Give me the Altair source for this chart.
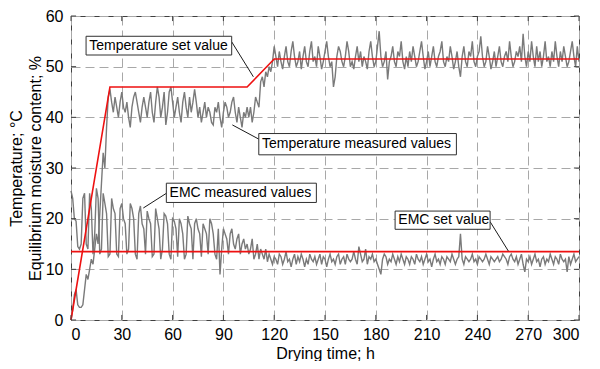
import altair as alt
import pandas as pd

# ---------------- data ----------------
hours = list(range(301))

temp_measured = (
    [0, 2, 5, 6, 3, 2.5, 2.5, 3, 6, 9, 8, 10, 12, 11, 14, 17, 15, 21, 27, 33, 30, 38, 44, 45.5]
    + [43, 41, 44, 42, 40, 43, 45, 42, 41, 43]
    + [40, 38, 42, 44, 45, 43, 41, 39, 42, 44]
    + [42, 40, 43, 45, 41, 39, 43, 46, 44, 40]
    + [42, 45, 38.5, 41, 45, 46, 43, 40, 42, 44]
    + [41, 39, 43, 45, 42, 40, 44, 41, 43, 45.5]
    + [43, 40, 42, 39, 41, 43, 40, 42, 41, 39]
    + [38.5, 42, 41, 43, 40, 38, 41, 43, 42, 40]
    + [41, 43, 44, 41, 39, 42, 40, 38, 41, 40, 42]
    + [40, 42, 39, 41, 44, 43, 42, 47, 48, 46, 49, 48, 50, 49, 51, 54]
    + [52, 50, 53, 51, 49.5, 52, 54, 51, 50, 53]
    + [55, 52, 50, 51, 53, 49.5, 52, 54, 51, 50]
    + [53, 55, 51, 52, 50, 54, 52, 49.5, 51, 53]
    + [55, 52, 50, 51, 46, 48, 52, 54, 53, 51]
    + [50, 52, 55, 53, 50, 51, 49.5, 52, 54, 51]
    + [53, 50, 52, 51, 49.5, 53, 55, 52, 50, 51]
    + [54, 57, 52, 50, 51, 53, 47.5, 51, 52, 54]
    + [51, 50, 53, 52, 55, 51, 49.5, 52, 50, 53]
    + [51, 54, 52, 50, 51, 53, 55, 52, 49.5, 51]
    + [53, 50, 52, 54, 51, 50, 52, 53, 55, 51]
    + [50, 52, 51, 54, 52, 49.5, 51, 53, 50, 48]
    + [52, 54, 51, 50, 53, 52, 55, 51, 50, 52]
    + [53, 56, 52, 50, 51, 54, 52, 49.5, 51, 53]
    + [50, 52, 54, 51, 50, 52, 53, 51, 55, 52]
    + [50, 51, 53, 52, 54, 51, 56.5, 52, 50, 53]
    + [51, 55, 52, 50, 54, 51, 53, 50, 52, 55]
    + [51, 52, 50, 53, 51, 55, 52, 50, 53, 51]
    + [54, 52, 50, 51, 53, 55, 52, 50, 54, 51]
)

emc_measured = (
    [25.5, 24, 20, 19.5, 14.5, 14, 15, 24, 25, 15, 14, 25, 22, 13, 17, 26, 24, 13, 14, 25, 23, 21, 12.5, 13]
    + [24, 22, 21, 13, 12.5, 22, 23, 20, 19, 13]
    + [14, 23, 22, 20, 13, 12, 21, 22.5, 19, 18]
    + [13, 21.5, 20, 19, 12.5, 13, 22, 20, 18, 12]
    + [14, 21, 20.5, 19, 13, 12, 20, 19.5, 18, 12.5]
    + [20, 19, 17, 12, 13, 20.5, 19, 18, 12, 19]
    + [20, 18, 17, 12.5, 19, 18, 17, 13, 20, 19]
    + [17, 13, 12, 18, 9, 14, 18, 17, 16, 13]
    + [17, 18, 15, 14, 16, 17, 13, 15, 16, 14]
    + [15, 13, 14, 16, 12, 13, 15, 12, 14, 13]
    + [12, 14, 11.5, 13, 12, 11, 12.5]
    + [12, 11, 13, 12.5, 11, 12, 13.5, 11.5, 12, 10.5]
    + [12, 13, 11, 12.5, 11.5, 13, 12, 10.5, 12, 11]
    + [13, 12, 11.5, 12.5, 11, 12, 13, 11, 12.5, 12]
    + [10.5, 12, 13, 11.5, 12, 11, 12.5, 13, 11, 12]
    + [12.5, 11, 13, 12, 11.5, 12, 13.5, 12, 11, 14.5]
    + [13, 11.5, 12, 14, 11, 12.5, 12, 13, 11.5, 12]
    + [11, 10, 9, 12, 13, 12.5, 11, 12, 11.5, 13]
    + [12, 11, 12.5, 11.5, 13, 12, 11, 12.5, 12, 11]
    + [12.5, 12, 11, 13, 12, 11.5, 12.5, 11, 12, 13]
    + [11.5, 12, 10.5, 12, 13, 11.5, 12, 11, 12.5, 12]
    + [11, 12.5, 12, 11.5, 13, 12, 11, 12, 12.5, 17]
    + [12, 11, 12.5, 12, 11.5, 12, 13, 11.5, 12, 11]
    + [12.5, 12, 11.5, 12, 13, 12, 11, 12.5, 12, 11.5]
    + [12, 12.5, 11.5, 12, 13, 12.5, 12, 11, 12.5, 13]
    + [12, 11.5, 12.5, 11, 12, 13, 11, 9.5, 12, 11.5]
    + [12.5, 11, 12, 13, 11.5, 12, 10.5, 12, 12.5, 11]
    + [12, 11.5, 13, 12, 11, 12.5, 12, 11, 13, 12]
    + [11.5, 12, 9.5, 12.5, 11, 12, 13, 11.5, 12, 12.5]
)

temp_set_x = [0, 23, 104, 120, 300]
temp_set_y = [0, 46, 46, 51.5, 51.5]
emc_set_x = [0, 300]
emc_set_y = [13.5, 13.5]

x_ticks = [0, 30, 60, 90, 120, 150, 180, 210, 240, 270, 300]
y_ticks = [0, 10, 20, 30, 40, 50, 60]

ann_text = ["Temperature set value", "Temperature measured values",
            "EMC measured values", "EMC set value"]
ann_x1 = [8.9, 110.9, 56.3, 191.4]
ann_x2 = [94.9, 227.6, 144.9, 247.5]
ann_y1 = [52.3, 32.6, 23.2, 17.9]
ann_y2 = [56.0, 36.8, 27.0, 21.5]
lead_x1 = [94.9, 95.3, 42.7, 247.5]
lead_y1 = [54.9, 38.5, 22.1, 19.4]
lead_x2 = [107.7, 110.9, 56.3, 258.3]
lead_y2 = [48.0, 35.7, 25.0, 13.6]

# ---------------- tables ----------------
n = min(len(hours), len(temp_measured), len(emc_measured))
meas = pd.DataFrame({
    "h": hours[:n] + hours[:n],
    "v": temp_measured[:n] + emc_measured[:n],
    "s": ["temp"] * n + ["emc"] * n,
})
setv = pd.DataFrame({
    "h": temp_set_x + emc_set_x,
    "v": temp_set_y + emc_set_y,
    "s": ["temp"] * len(temp_set_x) + ["emc"] * len(emc_set_x),
})
ann = pd.DataFrame({
    "t": ann_text, "x1": ann_x1, "x2": ann_x2, "y1": ann_y1, "y2": ann_y2,
    "tx": [a + 1.9 for a in ann_x1], "ty": [(a + b) / 2 for a, b in zip(ann_y1, ann_y2)],
})
lead = pd.DataFrame({"x1": lead_x1, "y1": lead_y1, "x2": lead_x2, "y2": lead_y2})
xt = pd.DataFrame({"h": x_ticks})
yt = pd.DataFrame({"v": y_ticks})

FONT = "Liberation Sans"
xscale = alt.Scale(domain=[0, 300], nice=False, zero=False)
yscale = alt.Scale(domain=[0, 60], nice=False, zero=False)
xaxis = alt.Axis(values=x_ticks, title="Drying time; h", grid=True, tickSize=0,
                 labelPadding=6, titlePadding=3, domain=False)
yaxis = alt.Axis(values=y_ticks, title=["Temperature; °C", "Equilibrium moisture content; %"],
                 grid=True, tickSize=0, labelPadding=8, titlePadding=2, domain=False)


def X(field, **kw):
    return alt.X(field, type="quantitative", scale=xscale, axis=xaxis, **kw)


def Y(field, **kw):
    return alt.Y(field, type="quantitative", scale=yscale, axis=yaxis, **kw)


measured = alt.Chart(meas).mark_line(color="#7a7a7a", strokeWidth=1.4).encode(
    x=X("h"), y=Y("v"), detail="s:N")
setlines = alt.Chart(setv).mark_line(color="#ee1111", strokeWidth=1.6).encode(
    x=X("h"), y=Y("v"), detail="s:N")

tick_b = alt.Chart(xt).mark_rule(color="#404040").encode(
    x=X("h"), y=Y("y0:Q"), y2="y1:Q").transform_calculate(y0="0", y1="1")
tick_t = alt.Chart(xt).mark_rule(color="#404040").encode(
    x=X("h"), y=Y("y0:Q"), y2="y1:Q").transform_calculate(y0="60", y1="59")
tick_l = alt.Chart(yt).mark_rule(color="#404040").encode(
    y=Y("v"), x=X("x0:Q"), x2="x1:Q").transform_calculate(x0="0", x1="3")
tick_r = alt.Chart(yt).mark_rule(color="#404040").encode(
    y=Y("v"), x=X("x0:Q"), x2="x1:Q").transform_calculate(x0="300", x1="297")

leaders = alt.Chart(lead).mark_rule(color="black", strokeWidth=0.9).encode(
    x=X("x1"), y=Y("y1"), x2="x2:Q", y2="y2:Q")
boxes = alt.Chart(ann).mark_rect(fill="white", stroke="#303030", strokeWidth=1).encode(
    x=X("x1"), x2="x2:Q", y=Y("y1"), y2="y2:Q")
texts = alt.Chart(ann).mark_text(align="left", baseline="middle", font=FONT,
                                 fontSize=14, color="black").encode(
    x=X("tx"), y=Y("ty"), text="t:N")

chart = alt.layer(measured, setlines, tick_b, tick_t, tick_l, tick_r,
                  leaders, boxes, texts).properties(
    width=508, height=304, padding=0
).configure_view(
    stroke="#404040", strokeWidth=1
).configure_axis(
    labelFont=FONT, titleFont=FONT, labelFontSize=16, titleFontSize=16,
    labelColor="black", titleColor="black", titleFontWeight="normal",
    gridColor="#a8a8a8", gridDash=[9, 5], gridWidth=1, titleLineHeight=19
)

chart.save("out.html", embed_options={"renderer": "svg", "actions": False})
